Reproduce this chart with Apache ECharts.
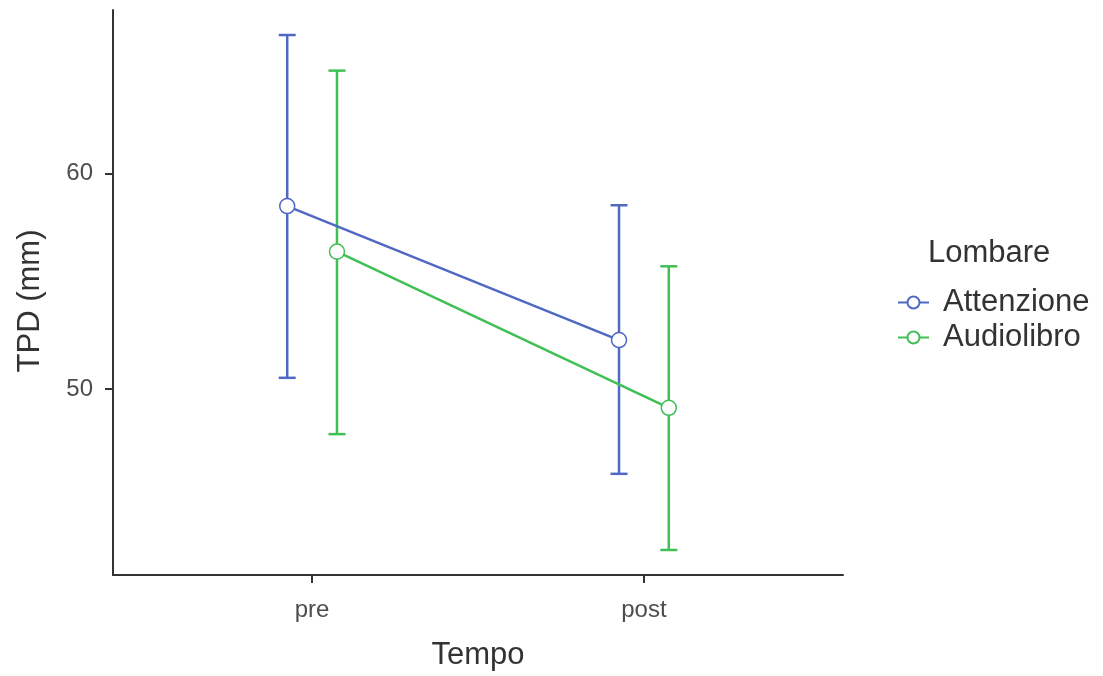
<!DOCTYPE html>
<html>
<head>
<meta charset="utf-8">
<script src="https://cdn.jsdelivr.net/npm/echarts@6/dist/echarts.min.js"></script>
<style>html,body{margin:0;padding:0;background:#fff;}#c{width:1103px;height:676px;}</style>
</head>
<body>
<div id="c"></div>
<script>
const categories = ['pre', 'post'];
const groups = ['Attenzione', 'Audiolibro'];
const attenzioneMean = [58.48, 52.27];
const attenzioneLow = [50.52, 46.07];
const attenzioneHigh = [66.41, 58.52];
const audiolibroMean = [56.37, 49.13];
const audiolibroLow = [47.91, 42.54];
const audiolibroHigh = [64.76, 55.69];
const yTicks = [50, 60];
const colors = ['#5068c4', '#41bf55'];
const dodge = [-0.075, 0.075];

const means = [attenzioneMean, audiolibroMean];
const lows = [attenzioneLow, audiolibroLow];
const highs = [attenzioneHigh, audiolibroHigh];

const font = '"Liberation Sans", Arial, sans-serif';
const chart = echarts.init(document.getElementById('c'), null, {renderer: 'canvas'});

const series = [];
groups.forEach((g, gi) => {
  series.push({
    type: 'custom',
    name: g + '_err',
    z: 2,
    silent: true,
    data: categories.map((c, i) => [i + 1 + dodge[gi], lows[gi][i], highs[gi][i]]),
    renderItem: function (params, api) {
      const x = api.value(0);
      const lo = api.coord([x, api.value(1)]);
      const hi = api.coord([x, api.value(2)]);
      const w = 8.5;
      const style = {stroke: colors[gi], lineWidth: 2.5, fill: null};
      return {
        type: 'group',
        children: [
          {type: 'line', shape: {x1: lo[0], y1: lo[1], x2: hi[0], y2: hi[1]}, style: style},
          {type: 'line', shape: {x1: lo[0] - w, y1: lo[1], x2: lo[0] + w, y2: lo[1]}, style: style},
          {type: 'line', shape: {x1: hi[0] - w, y1: hi[1], x2: hi[0] + w, y2: hi[1]}, style: style}
        ]
      };
    }
  });
});
groups.forEach((g, gi) => {
  series.push({
    type: 'line',
    name: g,
    z: 3,
    data: categories.map((c, i) => [i + 1 + dodge[gi], means[gi][i]]),
    symbol: 'circle',
    symbolSize: 15,
    lineStyle: {color: colors[gi], width: 2.5},
    itemStyle: {color: '#ffffff', borderColor: colors[gi], borderWidth: 1.5},
    emphasis: {disabled: true}
  });
});

chart.setOption({
  animation: false,
  backgroundColor: '#ffffff',
  grid: {left: 113, right: 260, top: 10, bottom: 101, containLabel: false},
  xAxis: {
    type: 'value',
    min: 0.4,
    max: 2.6,
    name: 'Tempo',
    nameLocation: 'middle',
    nameGap: 65,
    nameTextStyle: {fontSize: 31, color: '#333333', fontFamily: font},
    splitLine: {show: false},
    axisLine: {show: true, onZero: false, lineStyle: {color: '#333333', width: 2}},
    axisTick: {show: true, customValues: [1, 2], length: 8, lineStyle: {color: '#333333', width: 2}},
    axisLabel: {
      customValues: [1, 2],
      margin: 23,
      fontSize: 24,
      color: '#4d4d4d',
      fontFamily: font,
      formatter: v => categories[Math.round(v) - 1] || ''
    }
  },
  yAxis: {
    type: 'value',
    min: 41.38,
    max: 67.57,
    splitLine: {show: false},
    axisLine: {show: true, lineStyle: {color: '#333333', width: 2}},
    axisTick: {show: true, customValues: yTicks, length: 8, lineStyle: {color: '#333333', width: 2}},
    axisLabel: {
      customValues: yTicks,
      margin: 20,
      fontSize: 24,
      color: '#4d4d4d',
      fontFamily: font
    }
  },
  graphic: [
    {
      type: 'text',
      x: 30,
      y: 301,
      rotation: Math.PI / 2,
      style: {text: 'TPD (mm)', fontSize: 31, fill: '#333333', fontFamily: font, align: 'center', verticalAlign: 'middle'}
    },
    {
      type: 'text',
      x: 928,
      y: 253,
      style: {text: 'Lombare', fontSize: 31, fill: '#333333', fontFamily: font, align: 'left', verticalAlign: 'middle'}
    }
  ],
  legend: {
    data: groups,
    orient: 'vertical',
    left: 892,
    top: 282,
    itemWidth: 31,
    itemHeight: 15,
    itemGap: 4,
    textStyle: {fontSize: 31, color: '#333333', fontFamily: font, padding: [0, 0, 0, 9]},
    selectedMode: false
  },
  series: series
});
</script>
</body>
</html>
